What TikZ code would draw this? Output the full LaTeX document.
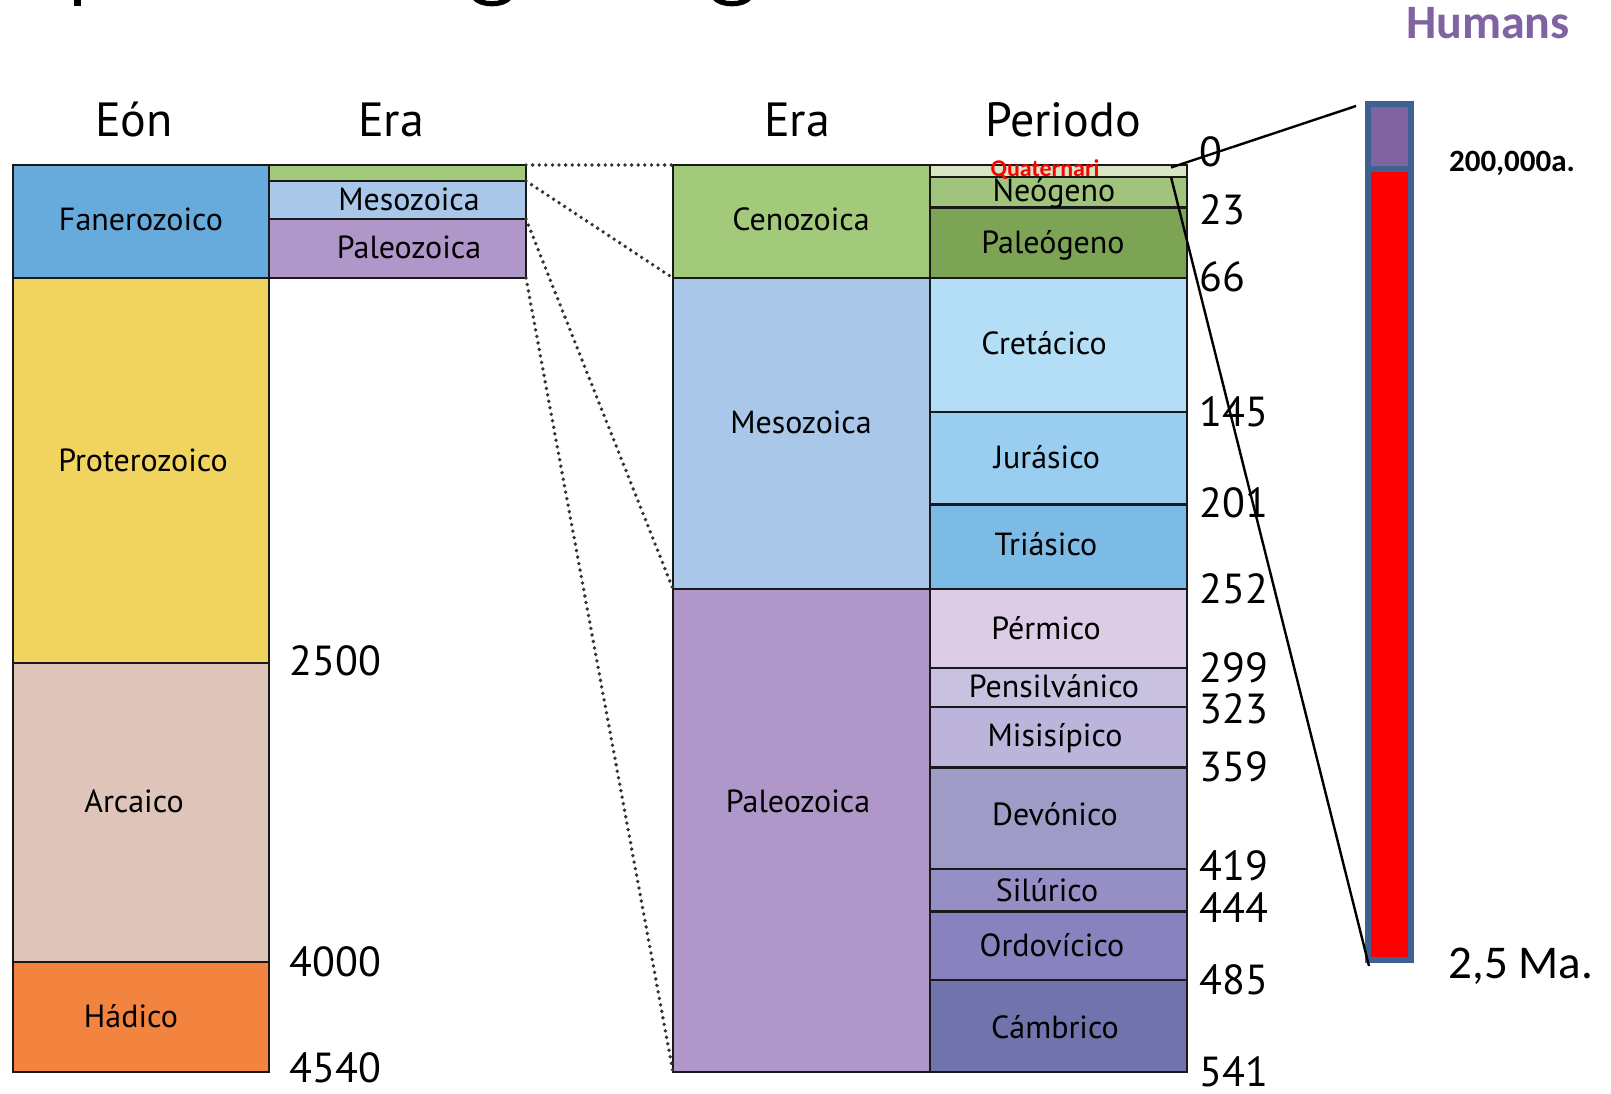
\documentclass[tikz,border=0pt]{standalone}
\usepackage{fontspec}
\setmainfont{PT Sans}
\newfontfamily\calfont{Carlito}
\definecolor{cFan}{HTML}{67ABDD}
\definecolor{cPro}{HTML}{F0D45F}
\definecolor{cArc}{HTML}{DFC5B9}
\definecolor{cHad}{HTML}{F3843F}
\definecolor{cCeno}{HTML}{A3C97B}
\definecolor{cMeso}{HTML}{A8C7E9}
\definecolor{cPaleo}{HTML}{B097C9}
\definecolor{cQuat}{HTML}{D9E6C5}
\definecolor{cNeo}{HTML}{A0C47E}
\definecolor{cPaleog}{HTML}{7DA455}
\definecolor{cCret}{HTML}{B4DEF6}
\definecolor{cJur}{HTML}{99CEF0}
\definecolor{cTri}{HTML}{7DBBE7}
\definecolor{cPerm}{HTML}{DCCCE5}
\definecolor{cPens}{HTML}{C9C1E0}
\definecolor{cMis}{HTML}{BCB4DA}
\definecolor{cDev}{HTML}{9F9BC7}
\definecolor{cSil}{HTML}{968FC6}
\definecolor{cOrd}{HTML}{8882BE}
\definecolor{cCam}{HTML}{7173AD}
\definecolor{cBarB}{HTML}{3D6190}
\definecolor{cPurp}{HTML}{8064A2}
\begin{document}
\begin{tikzpicture}[x=0.5pt,y=-0.5pt,
  box/.style={draw=black!90, line width=1.4pt},
  lbl/.style={font=\fontsize{16}{19}\selectfont, text=black, anchor=base, yshift=-5.6pt, inner sep=0pt},
  hdr/.style={font=\fontsize{24}{28}\selectfont, anchor=base, yshift=-8.4pt, inner sep=0pt},
  num/.style={font=\fontsize{21}{24}\selectfont, anchor=base west, yshift=-7.3pt, inner sep=0pt},
  dots/.style={line width=1.9pt, black!80, dash pattern=on 0pt off 3.3pt, line cap=round},
  barb/.style={draw=cBarB, line width=3.2pt},
  link/.style={line width=1.2pt, black}]
\useasboundingbox (0,0) rectangle (1611,1093);
\fill[white] (0,0) rectangle (1611,1093);
% fragments of the cut-off title
\fill[black] (74,-2) rectangle (81,6);
\draw[black, line width=2.6pt] (474,-3) .. controls (480,6) and (504,6) .. (510,-3);
\draw[black, line width=2.6pt] (714,-3) .. controls (720,6) and (744,6) .. (750,-3);
% headers
\node[hdr] (hEon) at (134,120) {Eón};
\node[hdr] (hEra1) at (391,120) {Era};
\node[hdr] (hEra2) at (797,120) {Era};
\node[hdr] (hPer) at (1063,120) {Periodo};
% eon column
\draw[box, fill=cFan] (13,165) rectangle (269,278);
\draw[box, fill=cPro] (13,278) rectangle (269,663);
\draw[box, fill=cArc] (13,663) rectangle (269,962);
\draw[box, fill=cHad] (13,962) rectangle (269,1072);
% era column 1
\draw[box, fill=cCeno] (269,165) rectangle (526,181);
\draw[box, fill=cMeso] (269,181) rectangle (526,219);
\draw[box, fill=cPaleo] (269,219) rectangle (526,278);
% era column 2
\draw[box, fill=cCeno] (673,165) rectangle (930,278);
\draw[box, fill=cMeso] (673,278) rectangle (930,589);
\draw[box, fill=cPaleo] (673,589) rectangle (930,1072);
% periods
\draw[box, fill=cQuat] (930,165) rectangle (1187,177);
\draw[box, fill=cNeo] (930,177) rectangle (1187,207.5);
\draw[box, fill=cPaleog] (930,207.5) rectangle (1187,278);
\draw[box, fill=cCret] (930,278) rectangle (1187,412);
\draw[box, fill=cJur] (930,412) rectangle (1187,504.5);
\draw[box, fill=cTri] (930,504.5) rectangle (1187,589);
\draw[box, fill=cPerm] (930,589) rectangle (1187,668);
\draw[box, fill=cPens] (930,668) rectangle (1187,707);
\draw[box, fill=cMis] (930,707) rectangle (1187,767.5);
\draw[box, fill=cDev] (930,767.5) rectangle (1187,869);
\draw[box, fill=cSil] (930,869) rectangle (1187,911.5);
\draw[box, fill=cOrd] (930,911.5) rectangle (1187,980);
\draw[box, fill=cCam] (930,980) rectangle (1187,1072);
% labels
\node[lbl] (lFan) at (141,219) {Fanerozoico};
\node[lbl] (lPro) at (143,460) {Proterozoico};
\node[lbl] (lArc) at (134,801) {Arcaico};
\node[lbl] (lHad) at (131,1016) {Hádico};
\node[lbl] (lMeso1) at (409,199) {Mesozoica};
\node[lbl] (lPaleo1) at (409,247) {Paleozoica};
\node[lbl] (lCeno) at (801,219) {Cenozoica};
\node[lbl] (lMeso2) at (801,422) {Mesozoica};
\node[lbl] (lPaleo2) at (798,801) {Paleozoica};
\node[lbl] (lNeo) at (1054,190) {Neógeno};
\node[lbl] (lPaleog) at (1053,242.5) {Paleógeno};
\node[lbl] (lCret) at (1044,343) {Cretácico};
\node[lbl] (lJur) at (1047,457) {Jurásico};
\node[lbl] (lTri) at (1046,544.5) {Triásico};
\node[lbl] (lPerm) at (1046,628) {Pérmico};
\node[lbl] (lPens) at (1054,686) {Pensilvánico};
\node[lbl] (lMis) at (1055,735) {Misisípico};
\node[lbl] (lDev) at (1055,814) {Devónico};
\node[lbl] (lSil) at (1047,890) {Silúrico};
\node[lbl] (lOrd) at (1052,945) {Ordovícico};
\node[lbl] (lCam) at (1055,1027) {Cámbrico};
\node[font=\calfont\bfseries\fontsize{12}{14}\selectfont, text=red, anchor=base, yshift=-3.9pt, inner sep=0pt] (lQuat) at (1045,169) {Quaternari};
% numbers
\node[num] (n2500) at (289,661) {2500};
\node[num] (n4000) at (289,962) {4000};
\node[num] (n4540) at (289,1068) {4540};
\node[num] (n0) at (1199,152) {0};
\node[num] (n23) at (1199,210) {23};
\node[num] (n66) at (1199,277) {66};
\node[num] (n145) at (1199,412) {145};
\node[num] (n201) at (1199,503) {201};
\node[num] (n252) at (1199,589) {252};
\node[num] (n299) at (1199,668) {299};
\node[num] (n323) at (1199,709) {323};
\node[num] (n359) at (1199,767) {359};
\node[num] (n419) at (1199,866) {419};
\node[num] (n444) at (1199,908) {444};
\node[num] (n485) at (1199,980) {485};
\node[num] (n541) at (1199,1072) {541};
% dotted zoom connectors
\coordinate (a1) at (526,165); \coordinate (b1) at (673,165);
\coordinate (a2) at (526,181); \coordinate (b2) at (673,278);
\coordinate (a3) at (526,219); \coordinate (b3) at (673,589);
\coordinate (a4) at (526,278); \coordinate (b4) at (673,1072);
\draw[dots] (a1) -- (b1);
\draw[dots] (a2) -- (b2);
\draw[dots] (a3) -- (b3);
\draw[dots] (a4) -- (b4);
% bar
\draw[barb, fill=cPurp] (1368,104) rectangle (1411,169);
\draw[barb, fill=red] (1368,169) rectangle (1411,960);
% solid connectors
\coordinate (qa) at (1171,167.5);
\coordinate (qb) at (1171,177);
\coordinate (bt) at (1356,106);
\coordinate (bb) at (1369,966);
\draw[link] (qa) -- (bt);
\draw[link] (qb) -- (bb);
% annotations
\node[font=\calfont\bfseries\fontsize{24}{28}\selectfont, text=cPurp, anchor=base, yshift=-7.7pt, inner sep=0pt] (hum) at (1488,23) {Humans};
\node[font=\calfont\bfseries\fontsize{15.5}{18}\selectfont, anchor=base, yshift=-5pt, inner sep=0pt] (k200) at (1512,161) {200,000a.};
\node[font=\calfont\fontsize{23.5}{28}\selectfont, anchor=base, yshift=-7.6pt, inner sep=0pt] (ma) at (1521,963) {2,5 Ma.};
\end{tikzpicture}
\end{document}
